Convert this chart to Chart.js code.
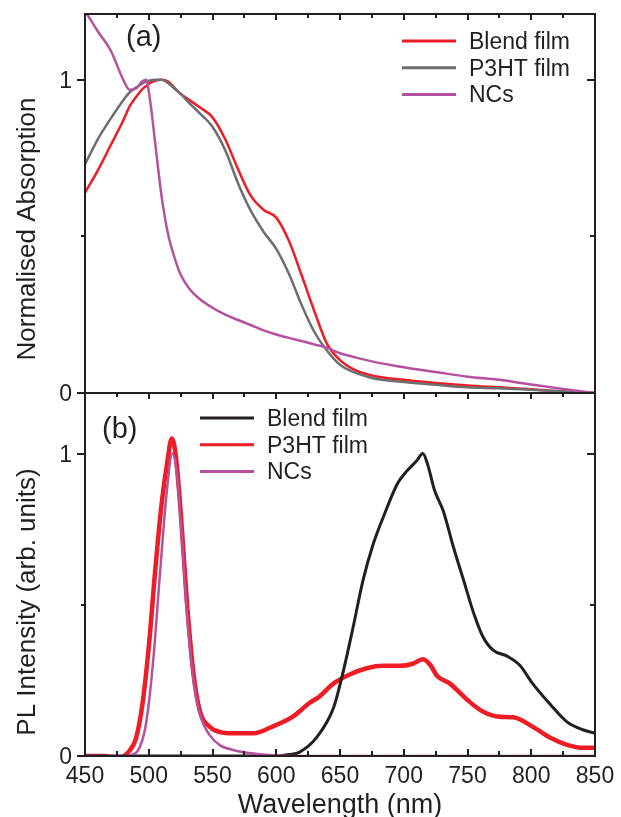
<!DOCTYPE html>
<html>
<head>
<meta charset="utf-8">
<script src="https://cdn.jsdelivr.net/npm/chart.js@4"></script>
<style>
  html, body { margin: 0; padding: 0; background: #fff; }
  #wrap { position: relative; width: 621px; height: 817px; overflow: hidden; }
  #wrap canvas { position: absolute; left: 0; top: 0; }
</style>
</head>
<body>
<div id="wrap">
  <canvas id="chartAbs" width="621" height="817"></canvas>
  <canvas id="chartPl" width="621" height="817"></canvas>
</div>
<script>
// ---- panel (a): absorption ----
const absWl    = [450, 460, 470, 480, 485, 490, 495, 498, 501, 505, 510, 515, 520, 525, 532, 540, 550, 560, 570, 580, 590, 600, 610, 620, 630, 640, 650, 660, 675, 700, 725, 750, 775, 800, 825, 850];
const absBlend = [0.64, 0.71, 0.79, 0.87, 0.915, 0.945, 0.97, 0.98, 0.99, 0.997, 1.0, 0.995, 0.975, 0.955, 0.935, 0.912, 0.88, 0.81, 0.715, 0.63, 0.585, 0.56, 0.485, 0.375, 0.26, 0.155, 0.105, 0.077, 0.056, 0.042, 0.032, 0.024, 0.018, 0.012, 0.005, 0.0];
const absP3ht  = [0.73, 0.81, 0.875, 0.935, 0.96, 0.975, 0.988, 0.994, 0.998, 1.0, 1.0, 0.99, 0.972, 0.955, 0.925, 0.893, 0.85, 0.775, 0.67, 0.582, 0.515, 0.46, 0.38, 0.28, 0.194, 0.134, 0.09, 0.068, 0.048, 0.035, 0.026, 0.018, 0.015, 0.01, 0.005, 0.0];
const absNcs   = [1.22, 1.155, 1.095, 1.0, 0.968, 0.972, 0.995, 1.0, 0.936, 0.80, 0.63, 0.51, 0.435, 0.378, 0.332, 0.30, 0.272, 0.25, 0.233, 0.217, 0.20, 0.187, 0.176, 0.166, 0.155, 0.144, 0.127, 0.116, 0.101, 0.082, 0.067, 0.052, 0.042, 0.027, 0.013, 0.0];

// ---- panel (b): photoluminescence ----
const plP3htWl = [450, 465, 475, 485, 490, 495, 500, 505, 510, 515, 518, 521, 525, 530, 535, 540, 548, 556, 566, 582, 597, 613, 626, 634, 645, 658, 671, 684, 697, 707, 715, 721, 726, 736, 750, 762, 775, 786, 801, 815, 828, 841, 850];
const plP3ht   = [0.0, 0.0, -0.008, 0.018, 0.058, 0.17, 0.36, 0.61, 0.83, 0.985, 1.05, 1.0, 0.81, 0.505, 0.275, 0.15, 0.096, 0.079, 0.075, 0.075, 0.097, 0.13, 0.175, 0.197, 0.24, 0.27, 0.29, 0.298, 0.298, 0.305, 0.32, 0.30, 0.265, 0.24, 0.185, 0.147, 0.13, 0.128, 0.097, 0.06, 0.037, 0.027, 0.027];
const plBlendWl = [450, 600, 610, 618, 632, 645, 652, 660, 668, 676, 684, 695, 702, 710, 715, 719, 724, 731, 739, 747, 755, 762, 770, 781, 791, 801, 815, 828, 841, 850];
const plBlend   = [0.0, 0.0, 0.005, 0.012, 0.063, 0.16, 0.27, 0.42, 0.58, 0.70, 0.79, 0.90, 0.94, 0.975, 1.0, 0.96, 0.88, 0.81, 0.69, 0.58, 0.47, 0.395, 0.35, 0.33, 0.30, 0.24, 0.17, 0.113, 0.086, 0.075];
const plNcsWl  = [450, 480, 485, 493, 498, 503.5, 509, 514, 518.5, 521.7, 525.6, 529.6, 534.8, 540, 548, 556, 566, 582, 600, 620, 850];
const plNcs    = [0.0, 0.0, 0.002, 0.03, 0.11, 0.316, 0.614, 0.868, 1.0, 0.945, 0.746, 0.493, 0.261, 0.14, 0.068, 0.035, 0.02, 0.008, 0.002, 0.0, 0.0];

const xTicks = [450, 500, 550, 600, 650, 700, 750, 800, 850];

const RED = '#ee1c25';
const GRAY = '#6d6e70';
const MAGENTA = '#b5529f';
const BLACK = '#231f20';
const FONT = '"Liberation Sans", Arial, Helvetica, sans-serif';

function pts(xs, ys) {
  return xs.map((x, i) => ({ x: x, y: ys[i] }));
}

// Frame, inward/outward ticks, labels and legend drawn on top of the chart
const panelDecor = {
  id: 'panelDecor',
  afterDraw(chart, args, o) {
    const ctx = chart.ctx;
    const a = chart.chartArea;
    const sx = chart.scales.x;
    const sy = chart.scales.y;
    ctx.save();
    ctx.strokeStyle = BLACK;
    ctx.fillStyle = BLACK;
    ctx.lineWidth = 2;

    // frame
    ctx.strokeRect(a.left, a.top, a.right - a.left, a.bottom - a.top);

    // x ticks (top edge, and bottom edge for the lower panel)
    for (let v = 450; v <= 850; v += 25) {
      const px = Math.round(sx.getPixelForValue(v));
      const len = v % 50 === 0 ? 6 : 4;
      ctx.beginPath();
      ctx.moveTo(px, a.top);
      ctx.lineTo(px, a.top + len);
      if (o.bottomTicks) {
        const lb = v % 50 === 0 ? 7 : 5;
        ctx.moveTo(px, a.bottom);
        ctx.lineTo(px, a.bottom - lb);
      }
      ctx.stroke();
    }

    // y ticks: left outward, right inward
    [0, 0.5, 1].forEach(v => {
      const py = Math.round(sy.getPixelForValue(v));
      const major = v !== 0.5;
      ctx.beginPath();
      ctx.moveTo(a.left, py);
      ctx.lineTo(a.left - (major ? 8 : 4), py);
      if (v > 0) {
        ctx.moveTo(a.right, py);
        ctx.lineTo(a.right - (major ? 8 : 5), py);
      }
      ctx.stroke();
    });

    // y tick labels
    ctx.font = '23px ' + FONT;
    ctx.textAlign = 'right';
    ctx.textBaseline = 'alphabetic';
    [0, 1].forEach(v => {
      ctx.fillText(String(v), 72, sy.getPixelForValue(v) + 8);
    });

    // x tick labels and title
    if (o.xLabels) {
      ctx.textAlign = 'center';
      xTicks.forEach(v => {
        ctx.fillText(String(v), sx.getPixelForValue(v), 783);
      });
      ctx.font = '27px ' + FONT;
      ctx.fillText('Wavelength (nm)', 340, 813);
    }

    // y title
    ctx.save();
    ctx.font = '26px ' + FONT;
    ctx.textAlign = 'center';
    ctx.translate(35, o.yTitleY);
    ctx.rotate(-Math.PI / 2);
    ctx.fillText(o.yTitle, 0, 0);
    ctx.restore();

    // panel label
    ctx.font = '29px ' + FONT;
    ctx.textAlign = 'left';
    ctx.fillText(o.label, o.labelX, o.labelY);

    // legend
    ctx.font = '23px ' + FONT;
    o.legend.forEach((item, i) => {
      const y = o.legendY + i * 26.7;
      ctx.strokeStyle = item.color;
      ctx.lineWidth = 3;
      ctx.beginPath();
      ctx.moveTo(o.legendX, y);
      ctx.lineTo(o.legendX + 54, y);
      ctx.stroke();
      ctx.fillStyle = BLACK;
      ctx.fillText(item.text, o.legendX + 67, y + 8);
    });
    ctx.restore();
  }
};

function baseOptions(padding, yMax, decor) {
  return {
    responsive: false,
    animation: false,
    devicePixelRatio: 1,
    layout: { padding: padding },
    elements: { point: { radius: 0 } },
    events: [],
    scales: {
      x: { type: 'linear', min: 450, max: 850, display: false },
      y: { type: 'linear', min: 0, max: yMax, display: false }
    },
    plugins: {
      legend: { display: false },
      tooltip: { enabled: false },
      panelDecor: decor
    }
  };
}

new Chart(document.getElementById('chartAbs'), {
  type: 'line',
  data: {
    datasets: [
      { label: 'NCs', data: pts(absWl, absNcs), borderColor: MAGENTA, borderWidth: 2.5, cubicInterpolationMode: 'monotone', order: 0 },
      { label: 'P3HT film', data: pts(absWl, absP3ht), borderColor: GRAY, borderWidth: 2.5, cubicInterpolationMode: 'monotone', order: 1 },
      { label: 'Blend film', data: pts(absWl, absBlend), borderColor: RED, borderWidth: 2.5, cubicInterpolationMode: 'monotone', order: 2 }
    ]
  },
  options: baseOptions({ left: 85, right: 26, top: 14, bottom: 424 }, 1.21, {
    label: '(a)', labelX: 126, labelY: 46,
    yTitle: 'Normalised Absorption', yTitleY: 229,
    xLabels: false, bottomTicks: false,
    legendX: 402, legendY: 41,
    legend: [
      { text: 'Blend film', color: RED },
      { text: 'P3HT film', color: GRAY },
      { text: 'NCs', color: MAGENTA }
    ]
  }),
  plugins: [panelDecor]
});

new Chart(document.getElementById('chartPl'), {
  type: 'line',
  data: {
    datasets: [
      { label: 'NCs', data: pts(plNcsWl, plNcs), borderColor: MAGENTA, borderWidth: 2.5, cubicInterpolationMode: 'monotone', order: 0 },
      { label: 'Blend film', data: pts(plBlendWl, plBlend), borderColor: BLACK, borderWidth: 3, cubicInterpolationMode: 'monotone', order: 1 },
      { label: 'P3HT film', data: pts(plP3htWl, plP3ht), borderColor: RED, borderWidth: 4.5, cubicInterpolationMode: 'monotone', order: 2 }
    ]
  },
  options: baseOptions({ left: 85, right: 26, top: 393, bottom: 61 }, 1.2, {
    label: '(b)', labelX: 102, labelY: 438,
    yTitle: 'PL Intensity (arb. units)', yTitleY: 602,
    xLabels: true, bottomTicks: true,
    legendX: 200, legendY: 418,
    legend: [
      { text: 'Blend film', color: BLACK },
      { text: 'P3HT film', color: RED },
      { text: 'NCs', color: MAGENTA }
    ]
  }),
  plugins: [panelDecor]
});
</script>
</body>
</html>
